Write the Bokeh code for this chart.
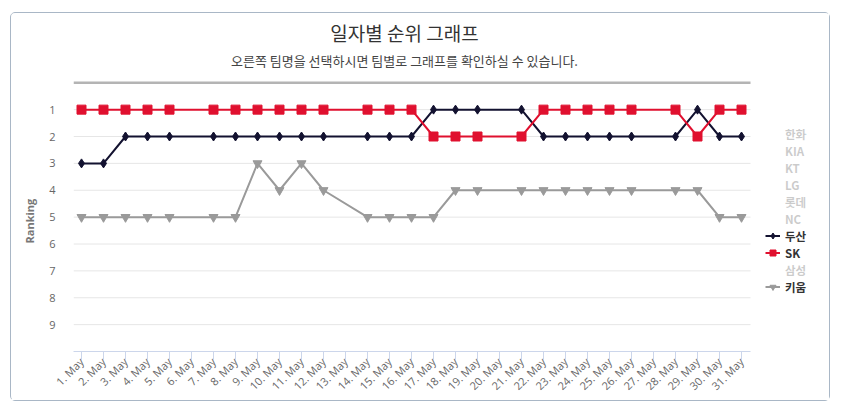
import math
from bokeh.plotting import figure
from bokeh.models import ColumnDataSource, Range1d, FixedTicker, Legend, LegendItem, Label
from bokeh.embed import file_html
from bokeh.resources import INLINE

# ---- data ----
days = list(range(1, 32))
day_labels = ["1. May", "2. May", "3. May", "4. May", "5. May", "6. May", "7. May", "8. May",
              "9. May", "10. May", "11. May", "12. May", "13. May", "14. May", "15. May",
              "16. May", "17. May", "18. May", "19. May", "20. May", "21. May", "22. May",
              "23. May", "24. May", "25. May", "26. May", "27. May", "28. May", "29. May",
              "30. May", "31. May"]
N = None
doosan = [3, 3, 2, 2, 2, N, 2, 2, 2, 2, 2, 2, N, 2, 2, 2, 1, 1, 1, N, 1, 2, 2, 2, 2, 2, N, 2, 1, 2, 2]
sk     = [1, 1, 1, 1, 1, N, 1, 1, 1, 1, 1, 1, N, 1, 1, 1, 2, 2, 2, N, 2, 1, 1, 1, 1, 1, N, 1, 2, 1, 1]
kiwoom = [5, 5, 5, 5, 5, N, 5, 5, 3, 4, 3, 4, N, 5, 5, 5, 5, 4, 4, N, 4, 4, 4, 4, 4, 4, N, 4, 4, 5, 5]
empty = [N] * 31
rank_ticks = [1, 2, 3, 4, 5, 6, 7, 8, 9]

title_text = "일자별 순위 그래프"
subtitle_text = "오른쪽 팀명을 선택하시면 팀별로 그래프를 확인하실 수 있습니다."
y_title = "Ranking"

teams = [
    ("한화", empty, "#333333", "circle", False),
    ("KIA", empty, "#333333", "diamond", False),
    ("KT", empty, "#333333", "square", False),
    ("LG", empty, "#333333", "triangle", False),
    ("롯데", empty, "#333333", "inverted_triangle", False),
    ("NC", empty, "#333333", "circle", False),
    ("두산", doosan, "#131230", "diamond", True),
    ("SK", sk, "#e0102f", "square", True),
    ("삼성", empty, "#333333", "triangle", False),
    ("키움", kiwoom, "#9a9a9a", "inverted_triangle", True),
]
marker_size = {"circle": 8, "diamond": 9, "square": 9, "triangle": 9, "inverted_triangle": 9}

KR = "Noto Sans CJK KR"

# layout geometry (pixels)
FRAME_W, FRAME_H = 758, 338
PX_DAY, PX_RANK = 22.0, 26.875
x_lo = 1 - 8 / PX_DAY
x_hi = 31 + 9 / PX_DAY
x_end = x_lo + FRAME_W / PX_DAY
y_top = 10 - FRAME_H / PX_RANK

p = figure(width=820, height=389, output_backend="svg", toolbar_location=None, title=None,
           x_range=Range1d(x_lo, x_end), y_range=Range1d(10, y_top),
           min_border_left=62, min_border_right=0, min_border_top=0, min_border_bottom=51,
           background_fill_color="white", border_fill_color="white",
           margin=(12, 0, 0, 10),
           styles={"border": "1px solid #a9b7c6", "border-radius": "5px"})
p.outline_line_color = None

# titles
p.add_layout(Label(x=331, y=351 - 32, x_units="screen", y_units="screen",
                   text=title_text, text_font=KR, text_font_size="19px",
                   text_color="#333333", text_align="center", text_baseline="middle"))
p.add_layout(Label(x=331, y=351 - 60, x_units="screen", y_units="screen",
                   text=subtitle_text, text_font=KR, text_font_size="13px",
                   text_color="#444444", text_align="center", text_baseline="middle"))

# axes
p.xaxis.bounds = (x_lo, x_hi)
p.xaxis.ticker = FixedTicker(ticks=days)
p.xaxis.major_label_overrides = {d: lab for d, lab in zip(days, day_labels)}
p.xaxis.major_label_orientation = math.pi / 4
p.xaxis.major_label_text_font = "Open Sans"
p.xaxis.major_label_text_font_size = "11px"
p.xaxis.major_label_text_color = "#666666"
p.xaxis.axis_line_color = "#ccd6eb"
p.xaxis.major_tick_line_color = "#ccd6eb"
p.xaxis.major_tick_out = 8
p.xaxis.major_tick_in = 0
p.xaxis.minor_tick_line_color = None
p.xaxis.major_label_standoff = 0
p.xgrid.grid_line_color = None

p.yaxis.ticker = FixedTicker(ticks=rank_ticks)
p.yaxis.axis_line_color = None
p.yaxis.major_tick_line_color = None
p.yaxis.minor_tick_line_color = None
p.yaxis.major_label_text_font = "Open Sans"
p.yaxis.major_label_text_font_size = "11px"
p.yaxis.major_label_text_color = "#666666"
p.yaxis.major_label_standoff = 12
# the label is centred on the whole frame; trailing no-break spaces move the
# visible word down to the middle of the plotting area, as in the reference
p.yaxis.axis_label = y_title + "\u00a0" * 27
p.yaxis.axis_label_text_font = "Open Sans"
p.yaxis.axis_label_text_font_size = "11px"
p.yaxis.axis_label_text_font_style = "bold"
p.yaxis.axis_label_text_color = "#777777"
p.yaxis.axis_label_standoff = 9
p.ygrid.grid_line_color = None

# grid lines limited to the plotting area, and the top separator line
p.segment(x0=[x_lo] * len(rank_ticks), x1=[x_hi] * len(rank_ticks), y0=rank_ticks, y1=rank_ticks,
          line_color="#e6e6e6", line_width=1, level="underlay")
p.segment(x0=[x_lo], x1=[x_hi], y0=[0], y1=[0], line_color="#b4b4b4", line_width=2.5,
          level="underlay")

items = []
for name, vals, color, marker, visible in teams:
    xs = [d for d, v in zip(days, vals) if v is not None]
    ys = [v for v in vals if v is not None]
    src = ColumnDataSource(dict(x=xs, y=ys))
    ln = p.line("x", "y", source=src, line_color=color, line_width=2, visible=visible)
    sc = p.scatter("x", "y", source=src, marker=marker, size=marker_size[marker],
                   fill_color=color, line_color=color, visible=visible)
    items.append(LegendItem(label=name, renderers=[ln, sc]))

legend = Legend(items=items, click_policy="hide", inactive_fill_color="white",
                inactive_fill_alpha=0.75, location=(692, 56),
                label_text_font=KR, label_text_font_size="11.5px", label_text_font_style="bold",
                label_text_color="#333333", glyph_width=15, glyph_height=17, label_height=17,
                label_standoff=5, spacing=0, padding=0, margin=0,
                border_line_color=None, background_fill_alpha=0)
p.add_layout(legend)

open("out.html", "w").write(file_html(p, INLINE))
